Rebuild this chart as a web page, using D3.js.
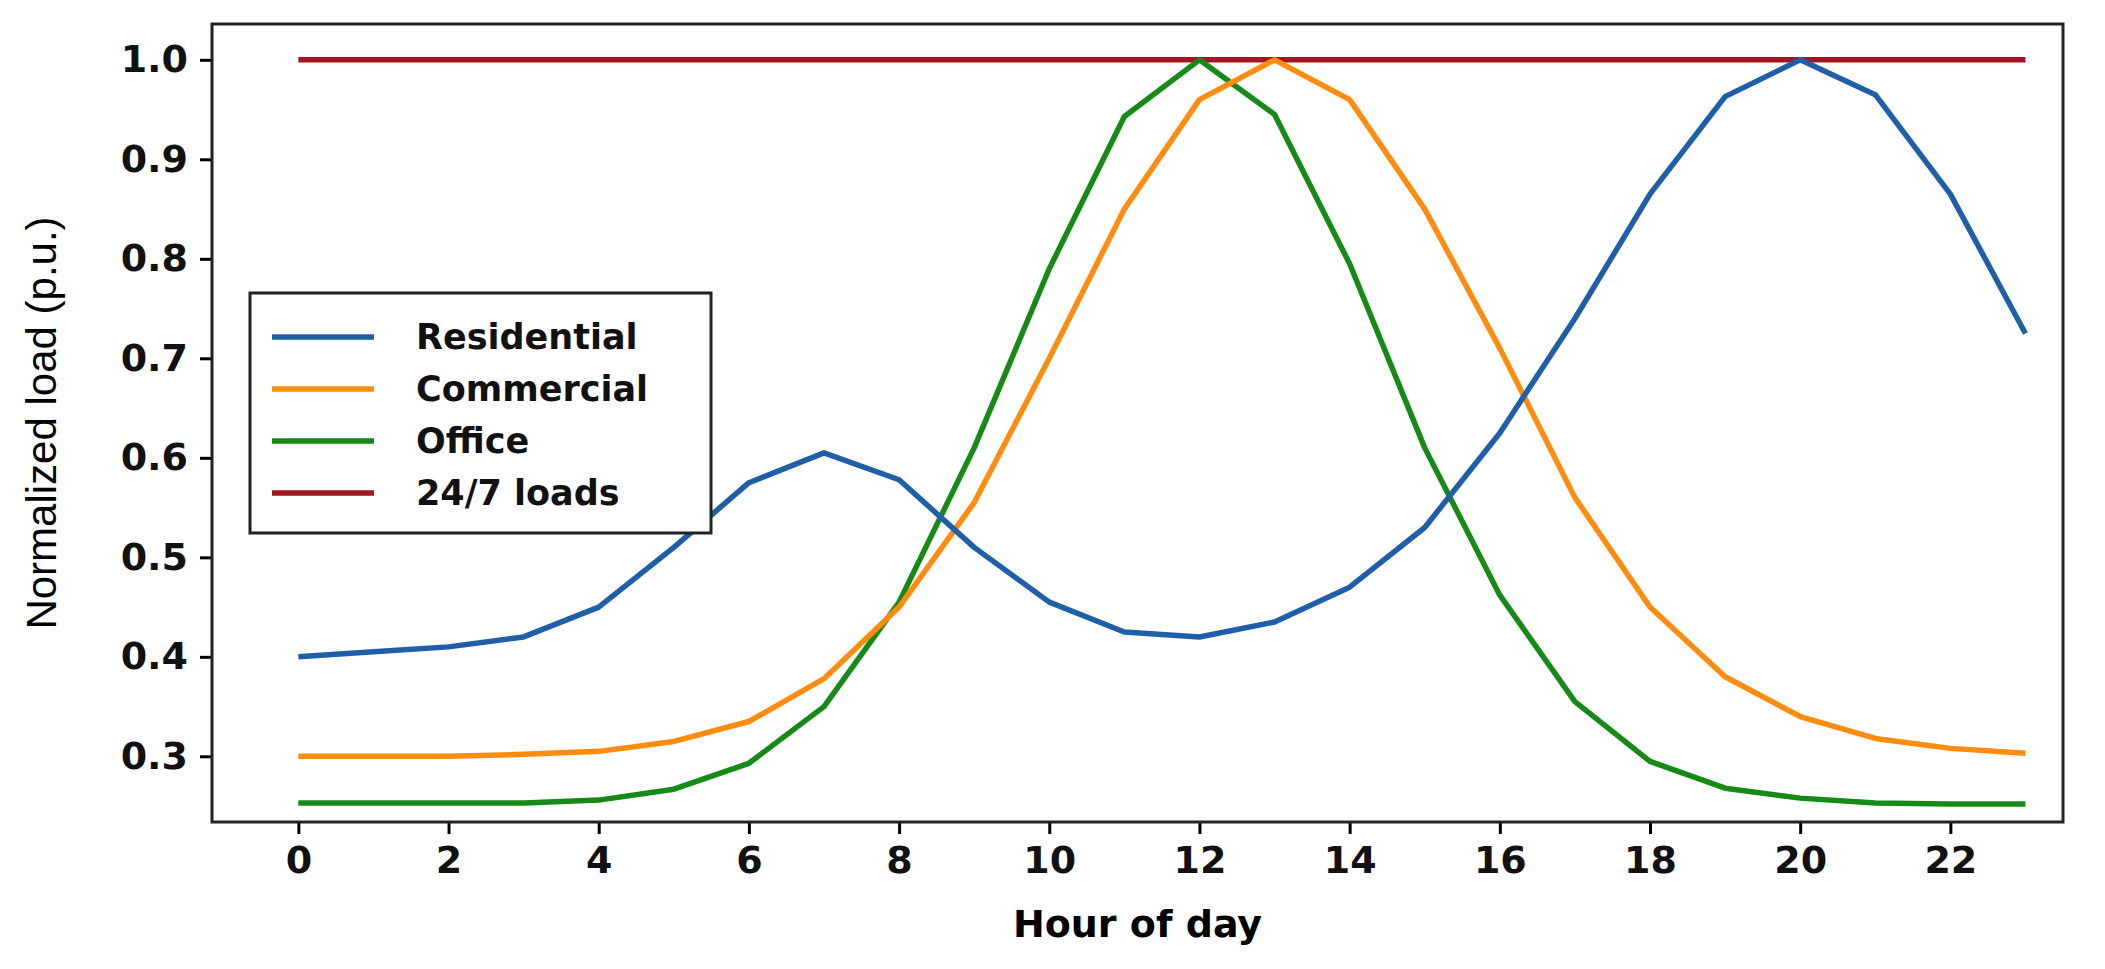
<!DOCTYPE html>
<html><head><meta charset="utf-8">
<script src="https://cdn.jsdelivr.net/npm/d3@7"></script>
<style>body{margin:0;background:#fff}</style>
</head><body><svg id="c"></svg>
<script>
const hours = d3.range(24);
const residential = [0.40,0.405,0.41,0.42,0.45,0.51,0.575,0.605,0.578,0.51,0.455,0.425,0.42,0.435,0.47,0.53,0.625,0.74,0.865,0.963,1.0,0.965,0.865,0.725];
const commercial = [0.30,0.30,0.30,0.302,0.305,0.315,0.335,0.378,0.45,0.555,0.70,0.85,0.96,1.0,0.96,0.85,0.71,0.56,0.45,0.38,0.34,0.318,0.308,0.303];
const office = [0.253,0.253,0.253,0.253,0.256,0.267,0.293,0.35,0.455,0.61,0.79,0.943,1.0,0.945,0.795,0.61,0.462,0.355,0.295,0.268,0.258,0.253,0.252,0.252];
const allDay = [1,1,1,1,1,1,1,1,1,1,1,1,1,1,1,1,1,1,1,1,1,1,1,1];
const xTicks = [0,2,4,6,8,10,12,14,16,18,20,22];
const yTicks = [0.3,0.4,0.5,0.6,0.7,0.8,0.9,1.0];

const series = [
  {name:"Residential", values:residential, color:"#1f5fa8"},
  {name:"Commercial", values:commercial, color:"#ff8c0f"},
  {name:"Office", values:office, color:"#168a16"},
  {name:"24/7 loads", values:allDay, color:"#a11822"}
];

const W = 2105, H = 969;
const m = {left:212, right:2063, top:24, bottom:822};
const svg = d3.select("#c").attr("width", W).attr("height", H);

const x = d3.scaleLinear().domain([-1.15, 23.5]).range([m.left, m.right]);
const y = d3.scaleLinear().domain([0.234, 1.036]).range([m.bottom, m.top]);

const font = "'DejaVu Sans', Verdana, sans-serif";

svg.append("g").attr("transform", `translate(0,${m.bottom})`)
  .call(d3.axisBottom(x).tickValues(xTicks).tickSize(12).tickPadding(12).tickFormat(d3.format("d")))
  .call(g => g.select(".domain").remove())
  .call(g => g.selectAll("line").attr("stroke-width", 3))
  .call(g => g.selectAll("text").attr("font-family", font).attr("font-size", 38).attr("font-weight", "bold").attr("fill", "#111"));

svg.append("g").attr("transform", `translate(${m.left},0)`)
  .call(d3.axisLeft(y).tickValues(yTicks).tickSize(12).tickPadding(12).tickFormat(d3.format(".1f")))
  .call(g => g.select(".domain").remove())
  .call(g => g.selectAll("line").attr("stroke-width", 3))
  .call(g => g.selectAll("text").attr("font-family", font).attr("font-size", 38).attr("font-weight", "bold").attr("fill", "#111"));

const line = d3.line().x((d, i) => x(hours[i])).y(d => y(d));

svg.append("g").selectAll("path").data(series.slice().reverse()).join("path")
  .attr("d", d => line(d.values)).attr("fill", "none")
  .attr("stroke", d => d.color).attr("stroke-width", 5.5).attr("stroke-linejoin", "round");

svg.append("rect").attr("x", m.left).attr("y", m.top)
  .attr("width", m.right - m.left).attr("height", m.bottom - m.top)
  .attr("fill", "none").attr("stroke", "#222").attr("stroke-width", 3);

// legend
const lg = svg.append("g").attr("transform", "translate(250,293)");
lg.append("rect").attr("width", 461).attr("height", 240).attr("fill", "#fff").attr("stroke", "#222").attr("stroke-width", 3);
const items = lg.selectAll("g").data(series).join("g").attr("transform", (d, i) => `translate(0,${44 + i * 52})`);
items.append("line").attr("x1", 22).attr("x2", 124).attr("stroke", d => d.color).attr("stroke-width", 5.5);
items.append("text").attr("x", 166).attr("dy", "0.35em").text(d => d.name)
  .attr("font-family", font).attr("font-size", 35).attr("font-weight", "bold").attr("fill", "#111");

svg.append("text").attr("x", (m.left + m.right) / 2).attr("y", 937).attr("text-anchor", "middle")
  .attr("font-family", font).attr("font-size", 38).attr("font-weight", "bold").text("Hour of day");
svg.append("text").attr("transform", `translate(56,${(m.top + m.bottom) / 2}) rotate(-90)`)
  .attr("text-anchor", "middle").attr("font-family", "'Liberation Sans Narrow', 'Liberation Sans', sans-serif")
  .attr("font-size", 42).text("Normalized load (p.u.)");
</script></body></html>
